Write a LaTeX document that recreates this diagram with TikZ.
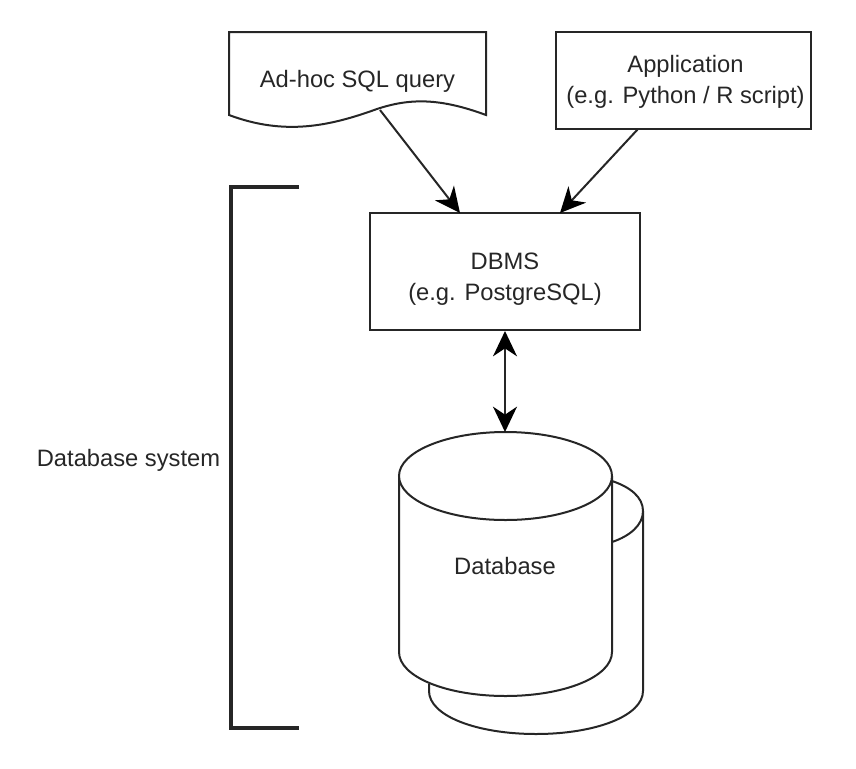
\documentclass[tikz,border=0pt]{standalone}
\usepackage{fontspec}
\setmainfont{Liberation Sans}
\usetikzlibrary{arrows.meta}
\tikzset{
  line/.style={draw=black!85,line width=1.5},
  labelbox/.style={inner sep=0pt,align=center,font=\fontsize{17.8pt}{23.6pt}\selectfont,text=black!85},
  conn/.style={draw=black!85,line width=1.5,-{Stealth[length=19,width=18,inset=6,color=black]}},
  bicon/.style={draw=black!85,line width=1.5,{Stealth[length=19,width=18,inset=6,color=black]}-{Stealth[length=19,width=18,inset=6,color=black]}},
}
\begin{document}
\begin{tikzpicture}[x=0.75pt,y=-0.75pt,line join=miter]
\useasboundingbox (0,0) rectangle (856,768);
% bracket
\draw[draw=black!85,line width=3] (299,187) -- (231,187) -- (231,728) -- (299,728);
\node[labelbox] (sys) at (128.5,460) {Database system};
% document
\draw[line] (229,32) -- (486,32) -- (486,115)
  .. controls (440,98) and (410,98) .. (377,109)
  .. controls (330,126) and (285,136) .. (229,115) -- cycle;
\node[labelbox] (doc) at (357.5,81) {Ad-hoc SQL query};
\coordinate (docout) at (380,110);
% application
\node[line,rectangle,minimum width=255*0.75pt,minimum height=97*0.75pt,inner sep=0pt] (app) at (683.5,80.5) {};
\node[labelbox] (applabel) at (685.5,82) {Application\\(e.g. Python / R script)};
% DBMS
\node[line,rectangle,minimum width=270*0.75pt,minimum height=117*0.75pt,inner sep=0pt] (dbms) at (505,271.5) {};
\node[labelbox] (dbmslabel) at (505,279) {DBMS\\(e.g. PostgreSQL)};
% back cylinder
\draw[line] (612,481) .. controls (630,487) and (643,497) .. (643,511) -- (643,691)
  .. controls (643,716) and (595,734) .. (536,734)
  .. controls (477,734) and (429,716) .. (429,691) -- (429,684);
\draw[line] (643,511) .. controls (643,525) and (630,536) .. (612,542);
% front cylinder
\draw[line,fill=white] (399,476) -- (399,652) .. controls (399,677) and (447,696) .. (505.5,696)
  .. controls (564,696) and (612,677) .. (612,652) -- (612,476);
\draw[line,fill=white] (505.5,476) ellipse [x radius=106.5,y radius=44];
\node[labelbox] (db) at (505,566) {Database};
\coordinate (dbtop) at (505,432);
% connectors
\draw[conn] (docout) -- (460,213);
\draw[conn] (638,129) -- (560,213);
\draw[bicon] (dbms.south) -- (dbtop);
\end{tikzpicture}
\end{document}
